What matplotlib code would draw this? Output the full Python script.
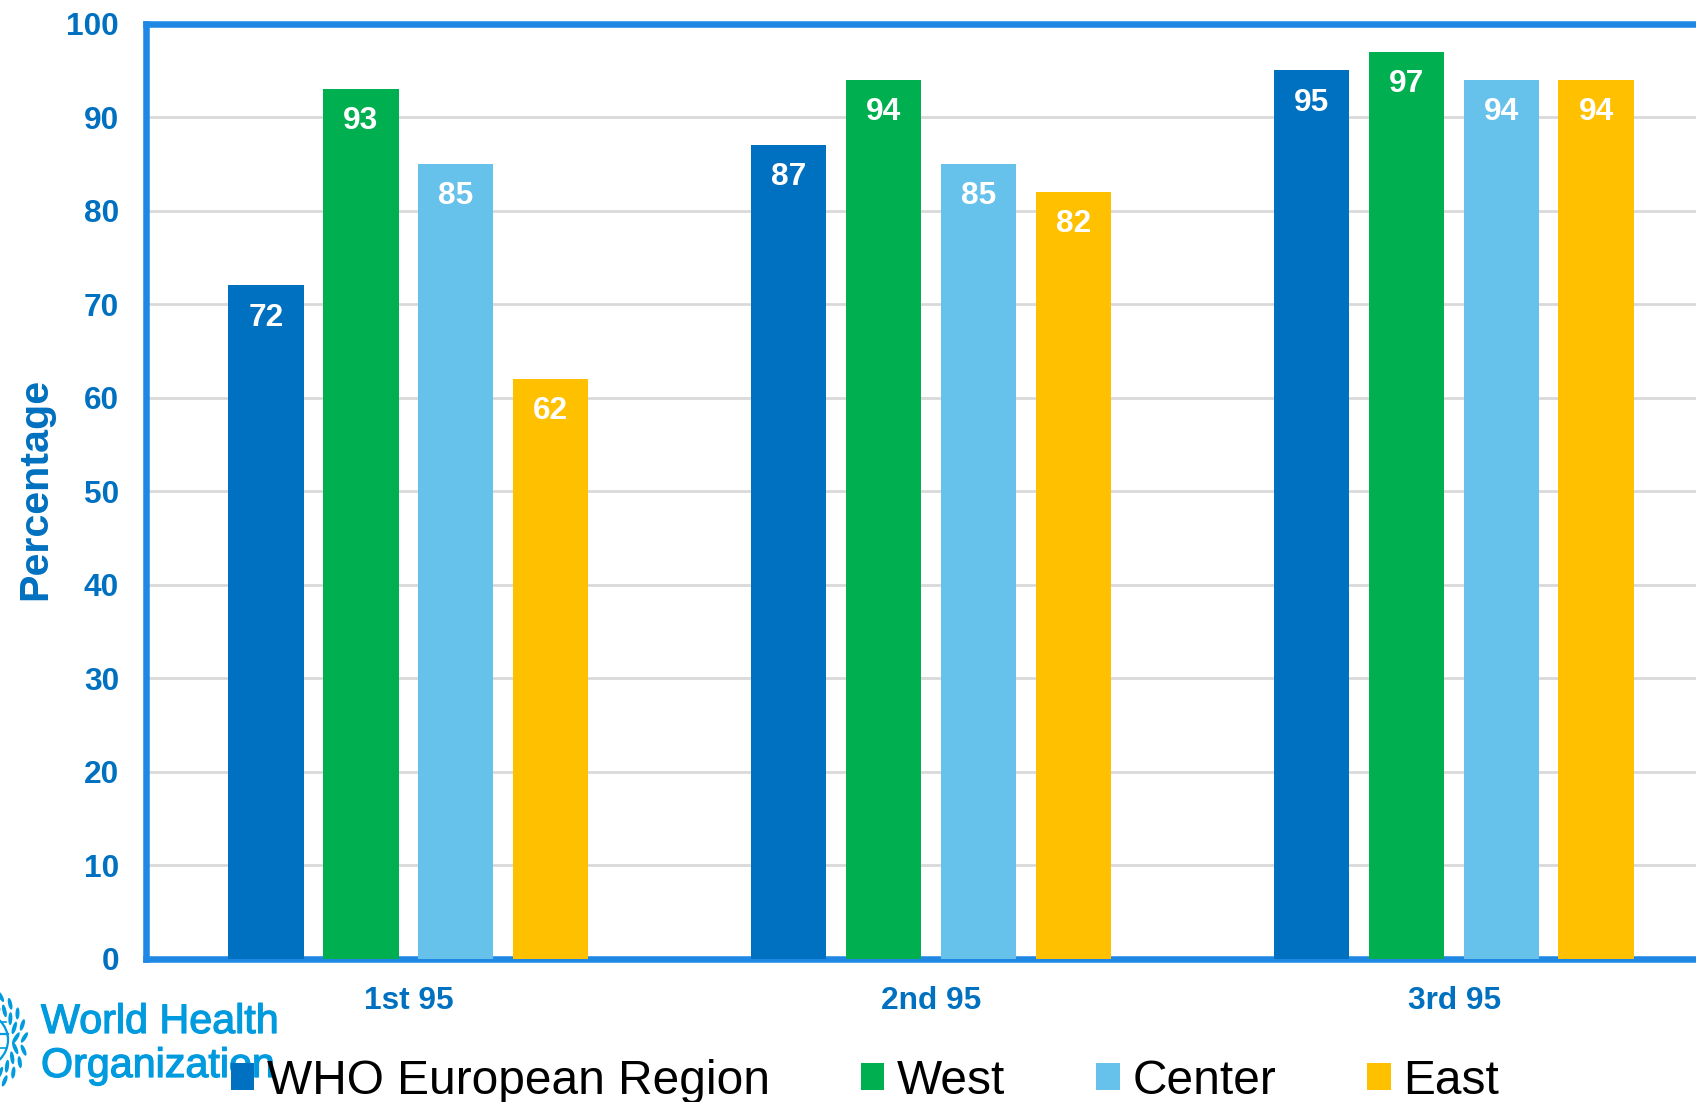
import numpy as np
import matplotlib
matplotlib.use("Agg")
import matplotlib.pyplot as plt
import matplotlib.patheffects as pe
from matplotlib.patches import Circle, Ellipse
from matplotlib.patches import Patch
from matplotlib.transforms import ScaledTranslation

WIDTH = 1696
HEIGHT = 1102

categories = ["1st 95", "2nd 95", "3rd 95"]
region = [72, 87, 95]
west = [93, 94, 97]
center = [85, 85, 94]
east = [62, 82, 94]
series_names = ["WHO European Region", "West", "Center", "East"]
series_values = [region, west, center, east]
series_colors = ["#0070C0", "#00B050", "#66C2EA", "#FFC000"]
y_ticks = list(range(0, 101, 10))

BLUE = "#0070C0"
FRAME = "#1F88E5"
LOGO = "#009ADE"

plt.rcParams["font.family"] = ["Liberation Sans", "DejaVu Sans"]


def draw_logo(lax):
    # emblem runs off the left edge, only its right half shows
    cx, cy = -19, 1040
    lax.add_patch(Circle((cx, cy), 27, fill=False, ec=LOGO, lw=1.6))
    lax.plot([0, 8], [cy - 6, cy - 6], color=LOGO, lw=1.6)
    lax.plot([0, 6], [cy - 18, cy - 18], color=LOGO, lw=1.2)
    lax.plot([0, 6], [cy + 8, cy + 8], color=LOGO, lw=1.2)
    for ang in range(-78, 80, 15):
        for r, w in ((35, 13), (43.5, 12)):
            a = np.radians(ang)
            x = cx + r * np.cos(a)
            y = cy + 1.12 * r * np.sin(a)
            tilt = ang + 90 - 35 * np.sign(ang if ang else 1)
            lax.add_patch(Ellipse((x, y), w, 4.0, angle=tilt, color=LOGO, lw=0))
    # regular weight with a thin outline keeps the lettering narrow but heavy
    heavy = [pe.withStroke(linewidth=0.9, foreground=LOGO)]
    lax.text(41, 1033, "World Health", color=LOGO, fontsize=29.7, va="baseline", path_effects=heavy)
    lax.text(41, 1077, "Organization", color=LOGO, fontsize=29.7, va="baseline", path_effects=heavy)


fig = plt.figure(figsize=(WIDTH / 100, HEIGHT / 100), dpi=100, facecolor="white")

lax = fig.add_axes([0, 0, 1, 1], zorder=0)
lax.set_xlim(0, WIDTH)
lax.set_ylim(HEIGHT, 0)
lax.axis("off")
draw_logo(lax)

# the plot area is wider than the canvas, the right side gets cut off
left, right, top, bottom = 146, 1714, 23.6, 958.5
ax = fig.add_axes([left / WIDTH, 1 - bottom / HEIGHT, (right - left) / WIDTH, (bottom - top) / HEIGHT], zorder=1)
ax.patch.set_alpha(0)

x = np.arange(len(categories))
bar_w = 0.144
step = 0.1815
for i, (vals, col) in enumerate(zip(series_values, series_colors)):
    pos = x + (i - 1.5) * step
    ax.bar(pos, vals, width=bar_w, color=col, zorder=3)
    for p, v in zip(pos, vals):
        ax.annotate(str(v), (p, v), xytext=(0, -23.2), textcoords="offset points",
                    ha="center", va="center", color="white", fontsize=22.8,
                    fontweight="bold", zorder=4)

ax.set_xlim(-0.502, 2.498)
ax.set_ylim(0, 100)
ax.set_yticks(y_ticks)
ax.set_xticks(x)
ax.set_xticklabels(categories)
ax.grid(axis="y", color="#D9D9D9", lw=2, zorder=1)
ax.tick_params(axis="y", length=0, pad=19.4, labelsize=22.8, labelcolor=BLUE)
ax.tick_params(axis="x", length=0, pad=19.8, labelsize=22.8, labelcolor=BLUE)
for lab in ax.get_xticklabels() + ax.get_yticklabels():
    lab.set_fontweight("bold")

# category labels sit a touch right of the group centres
nudge = ScaledTranslation(0.4 / 100, 0, fig.dpi_scale_trans)
for lab in ax.get_xticklabels():
    lab.set_transform(lab.get_transform() + nudge)

# bars are painted over the bottom line of the frame
for side in ("left", "top", "bottom"):
    ax.spines[side].set_color(FRAME)
    ax.spines[side].set_linewidth(4.7)
    ax.spines[side].set_zorder(2.5)
ax.spines["right"].set_visible(False)

fig.text(35 / WIDTH, 1 - 489 / HEIGHT, "Percentage", rotation=90, color=BLUE, fontsize=29.7,
         fontweight="bold", ha="center", va="center")

handles = [Patch(color=c, lw=0) for c in series_colors]
ax.legend(handles, series_names, ncol=4, frameon=False, fontsize=34.5,
          loc="lower left", bbox_to_anchor=(231 / WIDTH, 1 - 1104 / HEIGHT),
          bbox_transform=fig.transFigure, borderpad=0, borderaxespad=0,
          handlelength=0.49, handleheight=0.49, handletextpad=0.26, columnspacing=1.9,
          labelcolor="black")

fig.savefig("out.png", dpi=100)
